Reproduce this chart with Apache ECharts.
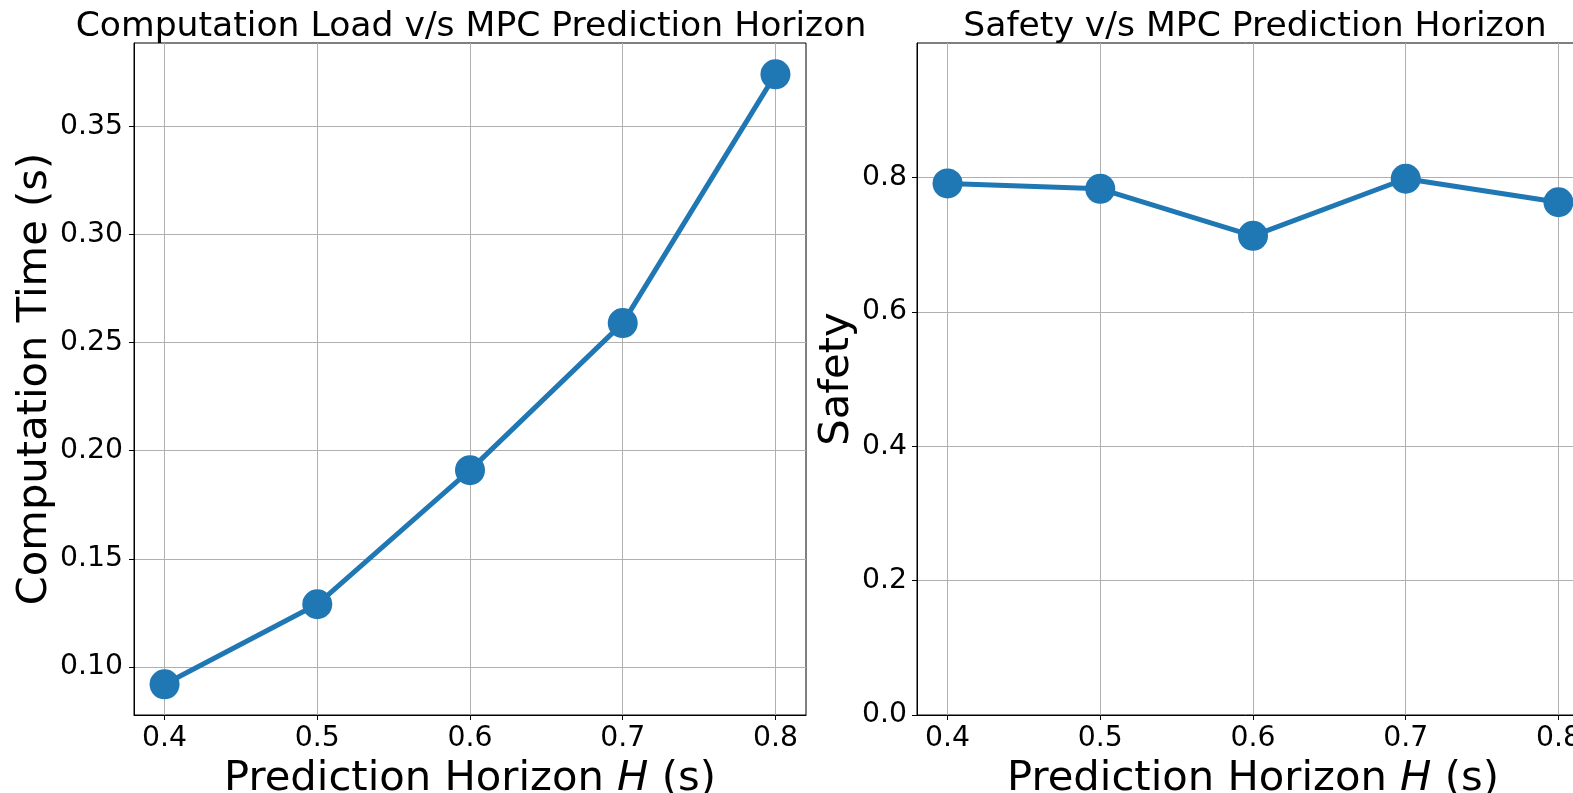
<!DOCTYPE html>
<html>
<head>
<meta charset="utf-8">
<title>MPC Prediction Horizon</title>
<script src="https://cdn.jsdelivr.net/npm/echarts@6/dist/echarts.min.js"></script>
<style>
  html, body { margin: 0; padding: 0; background: #fff; }
  #chart { width: 1573px; height: 793px; }
</style>
</head>
<body>
<div id="chart"></div>
<script>
// Prediction horizon H (s)
const horizons = [0.4, 0.5, 0.6, 0.7, 0.8];
// Mean computation time per MPC step (s)
const computationTime = [0.092, 0.129, 0.191, 0.259, 0.374];
// Safety score
const safety = [0.791, 0.783, 0.713, 0.798, 0.763];

const xTicks = [0.4, 0.5, 0.6, 0.7, 0.8];
const timeTicks = [0.10, 0.15, 0.20, 0.25, 0.30, 0.35];
const safetyTicks = [0.0, 0.2, 0.4, 0.6, 0.8];

const FONT = 'DejaVu Sans';
const BLUE = '#1f77b4';

const chart = echarts.init(document.getElementById('chart'), null, { renderer: 'canvas' });

function xAxis(gridIndex) {
  return {
    type: 'value',
    gridIndex: gridIndex,
    min: 0.38,
    max: 0.82,
    name: '{n|Prediction Horizon }{i|H}{n| (s)}',
    nameLocation: 'middle',
    nameGap: 30,
    nameTextStyle: {
      rich: {
        n: { fontFamily: FONT, fontSize: 41.7, color: '#000' },
        i: { fontFamily: FONT, fontSize: 41.7, fontStyle: 'italic', color: '#000' }
      }
    },
    axisLine: { show: true, onZero: false, lineStyle: { color: '#000', width: 1 } },
    axisTick: { show: true, length: 5, lineStyle: { color: '#000', width: 1 }, customValues: xTicks },
    axisLabel: {
      fontFamily: FONT, fontSize: 28.3, color: '#000', margin: 10,
      customValues: xTicks,
      formatter: v => v.toFixed(1)
    },
    splitLine: { show: true, lineStyle: { color: '#b0b0b0', width: 1 } }
  };
}

const option = {
  backgroundColor: '#fff',
  animation: false,
  title: [
    {
      text: 'Computation Load v/s MPC Prediction Horizon',
      left: 466, top: 5, textAlign: 'center',
      textStyle: { fontFamily: FONT, fontSize: 34.6, fontWeight: 'normal', color: '#000' }
    },
    {
      text: 'Safety v/s MPC Prediction Horizon',
      left: 1250, top: 5, textAlign: 'center',
      textStyle: { fontFamily: FONT, fontSize: 34.6, fontWeight: 'normal', color: '#000' }
    }
  ],
  grid: [
    { left: 134, top: 43, width: 672, height: 672, containLabel: false, outerBoundsMode: 'none',
      show: true, borderColor: '#000', borderWidth: 1 },
    { left: 917, top: 43, width: 672, height: 672, containLabel: false, outerBoundsMode: 'none',
      show: true, borderColor: '#000', borderWidth: 1 }
  ],
  xAxis: [xAxis(0), xAxis(1)],
  yAxis: [
    {
      type: 'value',
      gridIndex: 0,
      min: 0.0778,
      max: 0.3885,
      name: 'Computation Time (s)',
      nameLocation: 'middle',
      nameGap: 78,
      nameTextStyle: { fontFamily: FONT, fontSize: 41.7, color: '#000' },
      axisLine: { show: true, lineStyle: { color: '#000', width: 1 } },
      axisTick: { show: true, length: 5, lineStyle: { color: '#000', width: 1 }, customValues: timeTicks },
      axisLabel: {
        fontFamily: FONT, fontSize: 28.3, color: '#000', margin: 11,
        customValues: timeTicks,
        formatter: v => v.toFixed(2)
      },
      splitLine: { show: true, lineStyle: { color: '#b0b0b0', width: 1 } }
    },
    {
      type: 'value',
      gridIndex: 1,
      min: 0,
      max: 1.0,
      interval: 0.2,
      name: 'Safety',
      nameLocation: 'middle',
      nameGap: 56,
      nameTextStyle: { fontFamily: FONT, fontSize: 41.7, color: '#000' },
      axisLine: { show: true, lineStyle: { color: '#000', width: 1 } },
      axisTick: { show: true, length: 5, lineStyle: { color: '#000', width: 1 }, customValues: safetyTicks },
      axisLabel: {
        fontFamily: FONT, fontSize: 28.3, color: '#000', margin: 10,
        customValues: safetyTicks,
        formatter: v => v.toFixed(1)
      },
      splitLine: { show: true, lineStyle: { color: '#b0b0b0', width: 1 } }
    }
  ],
  series: [
    {
      type: 'line',
      xAxisIndex: 0, yAxisIndex: 0,
      data: horizons.map((h, i) => [h, computationTime[i]]),
      symbol: 'circle', symbolSize: 30,
      lineStyle: { color: BLUE, width: 5 },
      itemStyle: { color: BLUE },
      z: 3
    },
    {
      type: 'line',
      xAxisIndex: 1, yAxisIndex: 1,
      data: horizons.map((h, i) => [h, safety[i]]),
      symbol: 'circle', symbolSize: 30,
      lineStyle: { color: BLUE, width: 5 },
      itemStyle: { color: BLUE },
      z: 3
    }
  ]
};

chart.setOption(option);
</script>
</body>
</html>
